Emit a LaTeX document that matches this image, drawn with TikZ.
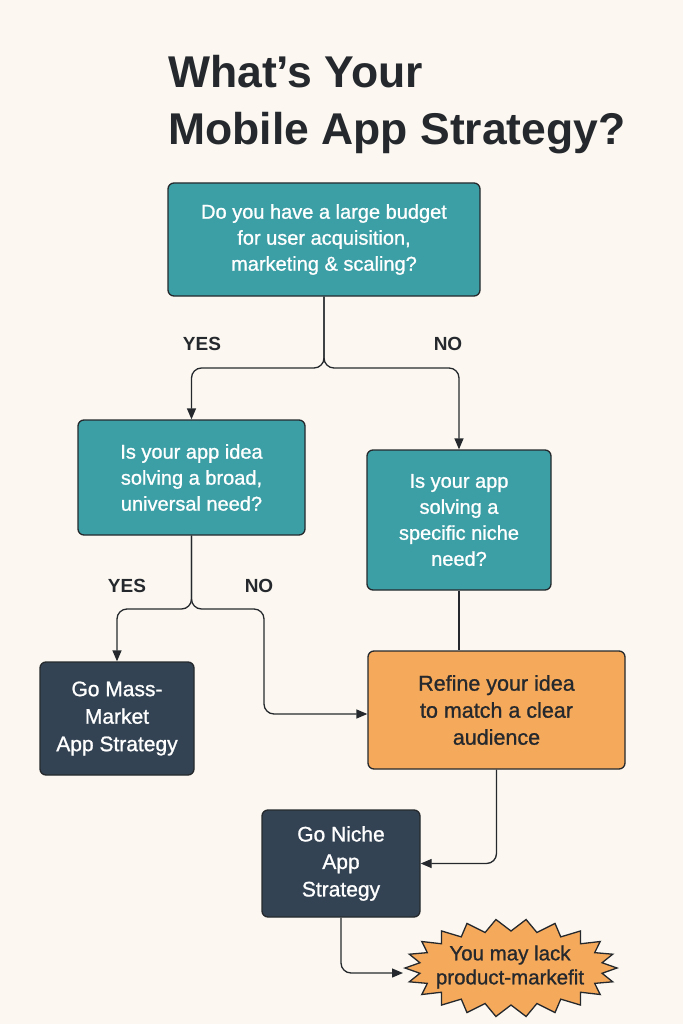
\documentclass[tikz,border=0pt]{standalone}
\usepackage{fontspec}
\setmainfont{Liberation Sans}
\newfontfamily\medfont[FakeBold=1.0]{Liberation Sans}
\usetikzlibrary{arrows.meta}
\definecolor{bg}{HTML}{FCF8F1}
\definecolor{teal}{HTML}{3C9FA6}
\definecolor{navy}{HTML}{344353}
\definecolor{orng}{HTML}{F5A95B}
\definecolor{ink}{HTML}{25292D}
\tikzset{
  box/.style={draw=ink, line width=1.3pt, rounded corners=6pt, align=center, inner sep=0pt},
  qbox/.style={box, fill=teal, text=white, font=\medfont\fontsize{20}{26}\selectfont},
  dbox/.style={box, fill=navy, text=white, font=\medfont\fontsize{21}{27.5}\selectfont},
  obox/.style={box, fill=orng, text=ink, font=\medfont\fontsize{21.5}{27}\selectfont},
  conn/.style={draw=ink, line width=1.3pt, rounded corners=10pt},
  arr/.style={conn, -{Triangle[length=11pt,width=9pt]}},
  lbl/.style={text=ink, font=\bfseries\fontsize{19}{22}\selectfont, inner sep=0pt},
  ttl/.style={text=ink, font=\bfseries\fontsize{44.5}{50}\selectfont, inner sep=0pt, anchor=base west},
  burststyle/.style={draw=ink, line width=1.3pt, fill=orng, line join=miter}
}
\begin{document}
\begin{tikzpicture}[x=1pt,y=-1pt]
\fill[bg] (0,0) rectangle (683,1024);
\useasboundingbox (0,0) rectangle (683,1024);

\node[ttl] (t1) at (168,88) {What’s Your};
\node[ttl] (t2) at (168,145) {Mobile App Strategy?};

\node[qbox, minimum width=312pt, minimum height=113pt] (q1) at (324,239.5)
  {Do you have a large budget\\for user acquisition,\\marketing \& scaling?};
\node[qbox, minimum width=227pt, minimum height=115pt] (q2) at (191.5,477.5)
  {Is your app idea\\solving a broad,\\universal need?};
\node[qbox, minimum width=184pt, minimum height=140pt] (q3) at (459,520)
  {Is your app\\solving a\\specific niche\\need?};
\node[dbox, minimum width=154pt, minimum height=113pt] (mass) at (117,718.5)
  {Go Mass-\\Market\\App Strategy};
\node[obox, minimum width=257pt, minimum height=118pt] (refine) at (496.5,710)
  {Refine your idea\\to match a clear\\audience};
\node[dbox, minimum width=158pt, minimum height=107pt] (niche) at (341,863.5)
  {Go Niche\\App\\Strategy};

% starburst
\path[burststyle] ({511+106},968)
  \foreach \i [evaluate=\i as \ra using {ifthenelse(mod(\i,2)==0,106,92)},
               evaluate=\i as \rb using {ifthenelse(mod(\i,2)==0,49,37)}] in {1,...,43}
  { -- ({511+\ra*cos(\i*360/44)},{968+\rb*sin(\i*360/44)}) } -- cycle;
\node[text=ink, align=center, inner sep=0pt, font=\medfont\fontsize{20.5}{24}\selectfont] (burst) at (510,967)
  {You may lack\\product-markefit};
\coordinate (bw) at (403,973);

\node[lbl] (y1) at (202,344) {YES};
\node[lbl] (n1) at (448,344) {NO};
\node[lbl] (y2) at (127,586) {YES};
\node[lbl] (n2) at (259,586) {NO};

\coordinate (s1) at (q1.south |- 0,368);
\draw[arr] (q1.south) -- (s1) -| (q2.north);
\draw[arr] (q1.south) -- (s1) -| (q3.north);

\coordinate (s2) at (q2.south |- 0,609);
\draw[arr] (q2.south) -- (s2) -| (mass.north);
\coordinate (c2) at (264,714);
\draw[arr] (q2.south) -- (s2) -| (c2) -- (refine.west |- c2);

\draw[conn] (q3.south) -- (refine.north -| q3.south);

\coordinate (c3) at (refine.south |- niche.east);
\draw[arr] (refine.south) -- (c3) -- (niche.east);

\coordinate (c4) at (niche.south |- bw);
\draw[arr] (niche.south) -- (c4) -- (bw);
\end{tikzpicture}
\end{document}
